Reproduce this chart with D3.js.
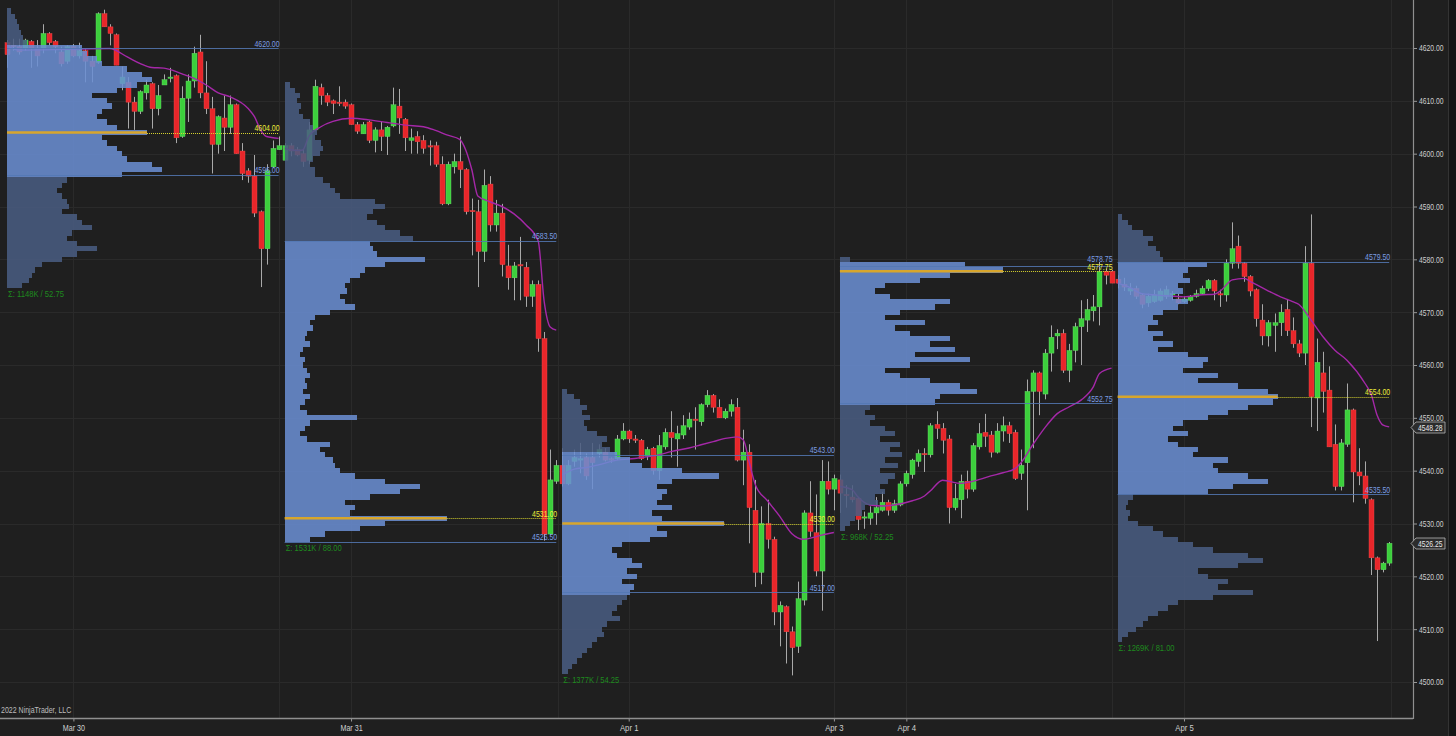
<!DOCTYPE html>
<html><head><meta charset="utf-8">
<script src="https://cdn.jsdelivr.net/npm/d3@7"></script>
<style>html,body{margin:0;padding:0;background:#1f1f1f;overflow:hidden}svg{display:block}</style>
</head><body><svg id="c" width="1456" height="736"></svg>
<script>
// ---------- DATA: 30-minute ES bars [open, high, low, close] ----------
const mar30Bars = [
[4621.0,4621.5,4616.25,4618.75],[4620.5,4621.75,4619.5,4620.25],[4620.25,4621.75,4618.75,4619.25],[4620.0,4621.75,4619.5,4621.5],
[4621.25,4621.5,4616.25,4620.0],[4620.0,4621.5,4616.5,4618.5],[4620.0,4624.5,4619.0,4622.75],[4622.75,4623.0,4620.5,4621.0],
[4621.25,4621.5,4619.0,4620.25],[4619.25,4620.25,4616.5,4617.0],[4617.5,4620.5,4617.0,4620.25],[4620.25,4620.75,4618.25,4618.5],
[4618.5,4621.0,4618.0,4619.5],[4619.5,4619.75,4613.5,4617.5],[4617.5,4618.5,4613.5,4616.5],[4617.25,4626.75,4617.0,4626.5],
[4626.5,4627.25,4624.0,4624.0],[4624.0,4624.5,4620.5,4622.75],[4622.5,4622.75,4616.75,4616.75],[4613.25,4616.5,4612.0,4614.5],
[4613.5,4614.5,4604.75,4609.75],[4609.75,4610.75,4604.5,4608.0],[4608.0,4612.0,4607.5,4611.75],[4611.5,4614.0,4610.25,4613.0],
[4613.25,4613.5,4604.75,4608.5],[4608.5,4613.0,4607.25,4611.0],[4613.0,4615.0,4613.0,4614.0],[4614.25,4616.25,4613.5,4614.5],
[4614.75,4615.0,4602.0,4603.0],[4603.25,4612.75,4603.0,4610.5],[4610.5,4615.0,4606.0,4613.75],[4613.75,4620.25,4612.5,4619.0],
[4619.25,4622.5,4610.5,4611.5],[4611.5,4617.5,4607.5,4608.5],[4608.5,4610.75,4596.25,4601.75],[4601.75,4607.25,4600.0,4607.0],
[4606.75,4611.0,4600.5,4605.0],[4605.0,4611.0,4603.75,4609.25],[4609.25,4609.5,4600.0,4600.0],[4600.5,4602.0,4595.0,4596.25],
[4596.75,4597.25,4594.5,4595.75],[4595.75,4599.75,4588.0,4588.75],[4589.0,4589.25,4574.75,4582.0],[4582.0,4598.0,4579.0,4596.75],
[4597.5,4602.5,4597.25,4601.0],[4600.75,4603.25,4600.75,4601.5]];
const mar31Bars = [
[4598.75,4602.0,4598.75,4601.5],[4601.5,4602.0,4599.5,4600.5],[4600.75,4601.25,4599.5,4599.75],[4600.0,4600.75,4597.5,4598.5],
[4598.75,4606.0,4598.0,4604.5],[4604.5,4614.0,4604.25,4612.75],[4612.5,4613.25,4609.25,4611.0],[4611.0,4611.5,4609.0,4609.75],
[4610.0,4610.25,4607.5,4609.5],[4609.75,4612.75,4609.0,4609.5],[4609.75,4610.25,4608.5,4609.0],[4609.25,4609.5,4605.5,4605.5],
[4605.5,4606.0,4603.75,4604.25],[4603.75,4606.0,4603.75,4605.5],[4606.0,4606.25,4602.0,4602.5],[4602.5,4605.0,4600.25,4604.5],
[4604.5,4606.0,4600.5,4603.25],[4603.25,4605.25,4599.75,4605.0],[4605.25,4612.5,4605.0,4609.25],[4609.0,4612.25,4603.75,4606.75],
[4606.5,4606.75,4600.5,4603.0],[4602.5,4604.75,4600.0,4603.0],[4603.25,4604.25,4600.0,4602.25],[4602.5,4603.5,4600.0,4601.0],
[4601.5,4602.5,4597.75,4601.25],[4601.5,4602.25,4597.5,4598.0],[4598.0,4599.5,4590.25,4590.5],[4590.5,4598.5,4590.25,4598.0],
[4597.5,4600.0,4596.25,4598.5],[4598.5,4603.25,4593.5,4597.0],[4597.0,4597.25,4588.5,4589.0],[4589.25,4591.5,4580.75,4589.0],
[4589.0,4591.25,4574.75,4581.5],[4581.5,4597.0,4579.5,4594.0],[4594.25,4595.75,4585.25,4586.5],[4586.5,4591.25,4585.25,4588.75],
[4588.75,4590.5,4576.75,4579.0],[4578.75,4582.75,4574.25,4576.5],[4576.5,4579.5,4572.25,4578.75],[4579.0,4584.25,4572.25,4578.75],
[4578.5,4579.5,4571.0,4573.0],[4573.0,4576.0,4571.0,4575.25],[4575.25,4576.0,4562.5,4565.0],[4565.0,4566.25,4526.75,4528.0],
[4528.0,4544.0,4527.75,4538.25],[4538.0,4542.0,4537.5,4541.0]];
const apr1Bars = [
[4541.0,4544.25,4537.0,4537.5],[4537.5,4542.0,4537.25,4541.0],[4541.75,4544.0,4540.75,4542.5],[4542.0,4545.25,4539.5,4542.25],
[4542.5,4543.25,4538.25,4539.0],[4542.5,4545.25,4536.5,4541.5],[4543.25,4545.0,4542.5,4544.0],[4543.5,4544.25,4541.75,4542.0],
[4542.25,4542.5,4541.5,4542.0],[4542.25,4546.75,4542.0,4546.0],[4546.0,4549.0,4545.75,4547.5],[4547.5,4547.75,4545.25,4546.0],
[4546.0,4546.75,4545.25,4545.75],[4545.75,4546.0,4542.0,4542.25],[4542.75,4544.5,4542.0,4544.0],[4544.25,4544.5,4539.25,4540.0],
[4540.0,4546.75,4538.25,4544.75],[4544.5,4548.0,4544.0,4547.25],[4547.25,4551.25,4542.5,4546.25],[4546.0,4548.5,4540.75,4547.0],
[4546.75,4550.5,4546.0,4548.5],[4548.25,4551.0,4547.75,4549.75],[4549.75,4552.0,4544.0,4549.5],[4549.25,4552.75,4548.5,4552.5],
[4552.5,4555.25,4552.0,4554.25],[4554.25,4554.5,4551.0,4552.0],[4552.0,4553.5,4550.0,4550.0],[4550.0,4551.75,4549.75,4551.25],
[4551.25,4553.5,4550.25,4552.5],[4552.0,4553.75,4541.75,4542.0],[4542.0,4547.75,4537.25,4543.5],[4543.5,4545.0,4526.25,4533.0],
[4532.5,4538.25,4518.0,4520.75],[4520.75,4533.25,4518.5,4530.0],[4530.0,4534.5,4525.25,4527.0],[4527.0,4527.5,4510.75,4513.25],
[4513.25,4515.25,4506.75,4514.5],[4514.25,4514.5,4503.5,4509.5],[4509.5,4510.5,4501.25,4506.5],[4506.75,4519.0,4505.5,4515.75],
[4515.5,4532.5,4514.5,4532.0],[4532.0,4538.0,4527.5,4528.5],[4528.25,4535.5,4520.0,4521.0],[4521.0,4542.0,4513.5,4538.0],
[4538.0,4541.75,4535.5,4536.5],[4536.5,4539.25,4532.5,4538.5]];
const apr4Bars = [
[4538.25,4539.25,4532.0,4535.75],[4535.5,4537.25,4533.0,4535.25],[4535.0,4537.25,4534.0,4534.5],[4534.75,4535.0,4528.75,4530.75],
[4531.25,4532.25,4529.0,4531.25],[4531.0,4533.25,4529.75,4532.0],[4532.0,4535.0,4529.75,4533.0],[4532.5,4536.0,4532.25,4534.0],
[4534.0,4534.5,4531.5,4532.5],[4532.5,4534.5,4532.0,4533.75],[4533.5,4538.0,4533.25,4537.5],[4537.5,4540.0,4537.0,4539.5],
[4539.25,4542.25,4538.5,4542.0],[4541.75,4544.0,4540.75,4543.25],[4543.25,4544.25,4539.75,4543.0],[4543.0,4549.0,4542.5,4548.5],
[4548.75,4551.25,4546.0,4548.0],[4548.0,4549.0,4543.25,4545.75],[4546.0,4546.75,4530.0,4533.0],[4533.0,4537.5,4532.5,4534.75],
[4534.5,4539.25,4531.0,4538.0],[4538.0,4540.0,4534.75,4536.5],[4536.5,4545.25,4536.0,4544.75],[4544.5,4549.0,4544.0,4547.0],
[4547.25,4550.75,4544.5,4546.5],[4546.75,4547.5,4542.5,4543.5],[4543.5,4549.0,4543.25,4547.5],[4547.5,4550.25,4545.5,4548.5],
[4548.5,4549.25,4545.25,4547.0],[4547.25,4547.75,4538.25,4538.5],[4539.5,4544.0,4538.25,4541.0],[4541.5,4557.25,4532.5,4555.0],
[4555.0,4559.0,4544.25,4558.5],[4558.5,4558.75,4550.5,4555.0],[4554.5,4563.0,4553.5,4562.25],[4562.25,4567.5,4558.75,4565.25],
[4565.5,4566.75,4563.0,4566.0],[4566.0,4566.75,4558.5,4559.0],[4559.0,4564.0,4556.75,4562.75],[4562.75,4568.0,4560.5,4567.25],
[4567.25,4572.25,4560.0,4568.75],[4568.5,4572.5,4566.25,4570.5],[4570.25,4573.25,4568.25,4571.0],[4571.0,4579.5,4567.5,4577.75],
[4577.75,4578.25,4575.25,4577.0],[4577.75,4578.0,4575.5,4575.5]];
const apr5Bars = [
[4576.25,4577.0,4574.5,4575.5],[4575.25,4576.5,4574.0,4574.75],[4574.0,4575.5,4573.25,4574.5],[4574.5,4575.0,4572.5,4573.0],
[4573.25,4573.5,4570.75,4571.5],[4571.75,4573.5,4571.0,4573.0],[4572.0,4574.25,4571.75,4573.25],[4572.25,4574.5,4572.0,4574.0],
[4573.0,4575.0,4572.5,4574.25],[4573.25,4574.0,4572.25,4573.5],[4572.5,4573.5,4571.5,4571.75],[4572.0,4573.0,4571.75,4572.5],
[4572.25,4573.25,4572.0,4573.0],[4573.0,4574.25,4572.75,4573.5],[4573.5,4575.0,4573.25,4574.5],[4574.5,4576.25,4574.0,4576.0],
[4576.0,4576.25,4572.25,4574.0],[4573.5,4574.25,4571.0,4573.25],[4573.25,4580.0,4572.0,4579.25],[4579.25,4587.0,4578.25,4582.0],
[4582.5,4584.5,4578.25,4579.25],[4579.25,4579.5,4575.75,4576.75],[4576.75,4577.0,4573.0,4574.0],[4574.25,4574.5,4567.25,4568.75],
[4568.5,4571.5,4563.75,4565.5],[4565.5,4568.5,4563.5,4568.0],[4567.5,4569.75,4562.5,4568.0],[4568.0,4571.5,4565.5,4570.0],
[4570.5,4572.5,4565.5,4566.5],[4566.5,4569.0,4563.25,4564.0],[4564.0,4564.75,4561.5,4562.25],[4562.25,4582.5,4560.0,4579.25],
[4579.25,4588.5,4548.25,4554.0],[4553.75,4565.0,4547.5,4560.5],[4558.5,4562.5,4551.0,4555.0],[4555.25,4559.75,4544.5,4544.5],
[4545.0,4548.75,4536.25,4537.0],[4537.0,4546.0,4536.25,4545.25],[4545.0,4556.5,4544.5,4551.5],[4551.5,4551.75,4534.0,4539.75],
[4539.75,4544.25,4537.25,4539.0],[4539.0,4541.75,4533.75,4534.75],[4534.5,4534.75,4520.25,4523.5],[4523.5,4523.75,4507.75,4521.25],
[4521.25,4522.75,4520.75,4522.5],[4522.5,4526.5,4522.0,4526.25]];

// session VWAP readings [bar index, price]
const mar30Vwap = [[0,4620.5],[2,4619.6],[10,4619.75],[17,4619.9],[20,4618.25],[22,4617.1],[24,4616.3],[26,4616.2],[29,4615.1],[31,4614.25],[33,4613.0],[35,4611.5],[37,4610.75],[40,4608.5],[41,4607.0],[42,4604.5],[43,4603.25],[45,4602.9]];
const mar31Vwap = [[46,4601.0],[48,4600.6],[49,4600.7],[50,4603.25],[52,4605.1],[54,4606.1],[57,4606.7],[60,4606.4],[63,4605.9],[66,4605.4],[69,4605.1],[71,4604.4],[73,4603.5],[75,4602.7],[76,4600.7],[77,4597.0],[78,4592.0],[80,4590.9],[82,4590.0],[84,4588.6],[86,4586.5],[88,4583.5],[89,4572.0],[90,4567.2],[91,4566.6]];
const apr1Vwap = [[92,4539.2],[94,4540.3],[96,4540.6],[98,4541.1],[101,4542.0],[104,4542.3],[106,4542.6],[108,4543.0],[110,4543.6],[113,4544.3],[115,4544.9],[117,4545.5],[119,4546.1],[121,4546.4],[122,4545.8],[123,4541.5],[124,4537.3],[126,4534.3],[128,4531.4],[130,4528.1],[132,4527.0],[134,4527.5],[135,4527.8],[137,4528.3]];
const apr4Vwap = [[138,4537.0],[140,4536.4],[141,4535.0],[143,4533.5],[145,4533.3],[147,4533.5],[150,4534.3],[152,4535.2],[153,4536.2],[155,4538.2],[156,4538.0],[158,4537.6],[161,4538.3],[163,4539.0],[165,4539.6],[167,4540.4],[168,4541.5],[170,4545.0],[172,4548.2],[174,4550.8],[176,4552.1],[178,4553.4],[180,4555.9],[181,4558.4],[183,4559.4]];
const apr5Vwap = [[184,4575.5],[186,4574.7],[188,4573.5],[190,4573.3],[192,4573.1],[195,4572.9],[198,4573.3],[200,4573.4],[201,4574.0],[203,4576.1],[205,4576.4],[206,4575.8],[209,4574.0],[211,4572.9],[213,4572.0],[214,4571.5],[216,4568.6],[218,4565.4],[220,4562.8],[222,4560.9],[225,4556.5],[226,4554.5],[227,4550.5],[228,4548.6],[229,4548.28]];

// volume profiles: volume (K contracts) per 1-point level, from the top price downward
const mar30Volume = [0.8,1.6,2,2.4,2.8,3.2,4,15,16,18,19,24,27,29,26,22,17,20,21,19,18,20,22,28,19,20,22,23,24,29,31,23,12,11,10,11,12,12.4,11,14,15,17,13,12,14,18,14,11,7,5.6,5,4.4,3];
const mar31Volume = [1,2,3,2.4,3.2,2.8,3.6,5,5.6,6.4,6,7.2,7.6,7,5.6,5,6,6,7.6,9,10,11,18,20,17.6,16.4,18.4,20,23,25.6,17,17.6,18.4,28,20,16,15,13,12,12.4,11,12,14,9,6,5,5.6,4.4,4,5,3.6,3,4,3.6,4.4,5,4,4.4,3.6,5,4,3,4.4,14.4,5,4,3,4.4,9,7,8,9.6,10,11,14,20,27,23,17,12,14,13,32.4,20,15,8,5];
const apr1Volume = [1,2.4,3.6,5,4,5.6,4.4,5,7,9,8,9.6,11,13.6,16,24,31.4,22,19,21,20,19,22,18,20,32.4,19,21,17.6,12,10,11,14,16,13,15,12,14.4,13.6,13,12,11,10,11.6,9,8,8.4,7,6,5,4,3,2,1.2];
const apr4Volume = [2,25,32.6,22,16,9,7,10,22,19,12,9,17,11,14,22,18,23,15,26,14,9,12,18,24,27.4,20,19,6,5,7,6,9,11,8,12,10,12.4,9,11.6,8,11,9.6,8,9,7,7.6,5,4.4,3,2,1];
const apr5Volume = [0.8,2,2.8,5,7,6,7.6,8.4,9,17.8,14,13,14.4,12,13,11,14,12,9,7,8,6,9,7,11,8,14,18,17,13,20,16,24,30,32,31,26,22,18,13,11,14,10,12,16,15,22,19,20,26,30,23,18,3,2,1.6,2.4,2,4,7,9,12,15,19,26,29,24,16,18,22,20,27,19,12,10,8,6,5,3.6,2,0.8];
const profileTops = [4627,4613,4555,4580,4588];
const valueAreaHighs = [4620,4583.5,4543,4578.75,4579.5];
const pocPrices = [4604,4531,4530,4577.75,4554];
const valueAreaLows = [4596,4526.5,4517,4552.75,4535.5];
const sessionSummaries = ["Σ: 1148K / 52.75","Σ: 1531K / 88.00","Σ: 1377K / 54.25","Σ: 968K / 52.25","Σ: 1269K / 81.00"];

// axes
const priceTicks = [4500,4510,4520,4530,4540,4550,4560,4570,4580,4590,4600,4610,4620];
const dayTickBars = [11,57,103,137,149,195];
const dayTickLabels = ["Mar 30","Mar 31","Apr 1","Apr 3","Apr 4","Apr 5"];
const gridBars = [11,45,57,91.3,103,137,149,183.1,195,229.3];
const lastPrice = 4526.25, lastVwap = 4548.28;

// ---------- DRAW ----------
const svg = d3.select('#c');
const FONT = "'Liberation Sans',Arial,sans-serif";
const fmt = d3.format('.2f');
// condensed look of the platform's font
function narrow(sel, perChar) {
  sel.each(function() {
    const t = d3.select(this);
    const s = t.text();
    t.attr('textLength', s.length * perChar).attr('lengthAdjust', 'spacingAndGlyphs');
  });
  return sel;
}
const sessions = [mar30Bars,mar31Bars,apr1Bars,apr4Bars,apr5Bars];
const vwaps = [mar30Vwap,mar31Vwap,apr1Vwap,apr4Vwap,apr5Vwap];
const volumes = [mar30Volume,mar31Volume,apr1Volume,apr4Volume,apr5Volume];
const bars = [];
const startIdx = [];
sessions.forEach(s => { startIdx.push(bars.length); s.forEach(b => bars.push(b)); });

const x = d3.scaleLinear().domain([0, bars.length-1]).range([7, 1389.2]);
const y = d3.scaleLinear().domain([4500, 4620]).range([682, 48]);
const vol = d3.scaleLinear().domain([0, 32.4]).range([0, 162]);

svg.append('rect').attr('width',1456).attr('height',736).attr('fill','#1f1f1f');

// grid
const grid = svg.append('g').attr('shape-rendering','crispEdges');
grid.selectAll('line.h').data(priceTicks).join('line')
  .attr('x1',0).attr('x2',1413).attr('y1',d=>Math.round(y(d))+0.5).attr('y2',d=>Math.round(y(d))+0.5)
  .attr('stroke','#2a2a2a').attr('stroke-width',1);
grid.selectAll('line.v').data(gridBars).join('line')
  .attr('y1',0).attr('y2',718).attr('x1',d=>Math.round(x(d))+0.5).attr('x2',d=>Math.round(x(d))+0.5)
  .attr('stroke','#2a2a2a').attr('stroke-width',1);

// candles
const cg = svg.append('g');
cg.selectAll('line').data(bars).join('line')
  .attr('x1',(d,i)=>Math.round(x(i))+0.5).attr('x2',(d,i)=>Math.round(x(i))+0.5)
  .attr('y1',d=>y(d[1])).attr('y2',d=>y(d[2]))
  .attr('stroke','#a9a9a9').attr('stroke-width',1);
cg.selectAll('rect').data(bars).join('rect')
  .attr('x',(d,i)=>Math.round(x(i))-2).attr('width',5)
  .attr('y',d=>y(Math.max(d[0],d[3])))
  .attr('height',d=>Math.max(1.2, Math.abs(y(d[0])-y(d[3]))))
  .attr('fill',d=>d[3]>=d[0]?'#3ccf3c':'#e8262a')
  .attr('stroke',d=>d[3]>=d[0]?'#6fe06f':'#f05050').attr('stroke-width',0.4);

// vwap
const vline = d3.line().x(d=>x(d[0])).y(d=>y(d[1])).curve(d3.curveMonotoneX);
svg.append('g').selectAll('path').data(vwaps).join('path')
  .attr('d',vline).attr('fill','none').attr('stroke','#a528a8').attr('stroke-width',1.4);

// profiles
volumes.forEach((v, s) => {
  const x0 = x(startIdx[s]);
  const xEnd = x(startIdx[s] + sessions[s].length - 1);
  const top = profileTops[s], vah = valueAreaHighs[s], val = valueAreaLows[s], poc = pocPrices[s];
  const rows = v.map((vv, k) => ({p: top - k, v: vv}));
  const g = svg.append('g');
  const pg = g.append('g').attr('opacity', 0.86).attr('shape-rendering','crispEdges');
  pg.selectAll('rect').data(rows).join('rect')
    .attr('x', Math.round(x0)).attr('y', d => Math.round(y(d.p + 0.5)))
    .attr('height', d => Math.round(y(d.p - 0.5)) - Math.round(y(d.p + 0.5)))
    .attr('width', d => Math.round(vol(d.v)))
    .attr('fill', d => (d.p - 0.5 < vah && d.p + 0.5 > val) ? '#6b8fd4' : '#4a5d82');
  const pocRow = rows.find(r => r.p === Math.round(poc));
  const pw = vol(pocRow.v);
  // VAH / VAL lines and labels
  [vah, val].forEach((lv, k) => {
    g.append('line').attr('x1', x0).attr('x2', xEnd).attr('y1', Math.round(y(lv))+0.5).attr('y2', Math.round(y(lv))+0.5)
      .attr('stroke', '#5478b4').attr('stroke-width', 1).attr('stroke-opacity', 0.85);
    let ly = y(lv) - 1.5;
    if (k === 0 && Math.abs(y(poc) - y(vah)) < 9) ly = y(poc) - 9.5;
    narrow(g.append('text').attr('x', xEnd + 1).attr('y', ly).attr('text-anchor', 'end')
      .attr('font-family', FONT).attr('font-size', 9).attr('fill', '#7b9de2').text(fmt(lv)), 3.6);
  });
  // POC line and label
  g.append('line').attr('x1', x0).attr('x2', x0 + pw).attr('y1', y(poc)).attr('y2', y(poc))
    .attr('stroke', '#d8a62c').attr('stroke-width', 2.5);
  g.append('line').attr('x1', x0 + pw).attr('x2', xEnd).attr('y1', Math.round(y(poc))+0.5).attr('y2', Math.round(y(poc))+0.5)
    .attr('stroke', '#d6d22e').attr('stroke-width', 1).attr('stroke-dasharray', '1,1');
  narrow(g.append('text').attr('x', xEnd + 1).attr('y', y(poc) - 1.5).attr('text-anchor', 'end')
    .attr('font-family', FONT).attr('font-size', 9).attr('fill', '#ecec3a').text(fmt(poc)), 3.6);
  // summary
  const bottom = top - v.length + 1;
  narrow(g.append('text').attr('x', x0 + 1).attr('y', y(bottom - 0.5) + 9)
    .attr('font-family', FONT).attr('font-size', 9).attr('fill', '#1e8a1e').text(sessionSummaries[s]), 3.5);
});

// bottom axis
const xAxis = d3.axisBottom(x).tickValues(dayTickBars).tickFormat((d,i)=>dayTickLabels[i]).tickSize(3).tickPadding(3);
const gx = svg.append('g').attr('transform','translate(0,718.5)').call(xAxis);
gx.select('.domain').remove();
gx.selectAll('line').attr('stroke','#999');
narrow(gx.selectAll('text').attr('fill','#cfcfcf').attr('font-family',FONT).attr('font-size',9), 3.7);
svg.append('line').attr('x1',0).attr('x2',1413).attr('y1',718.5).attr('y2',718.5).attr('stroke','#8f8f8f').attr('stroke-width',1.5);

// right axis
const yAxis = d3.axisRight(y).tickValues(priceTicks).tickFormat(fmt).tickSize(4).tickPadding(2);
const gy = svg.append('g').attr('transform','translate(1413,0)').call(yAxis);
gy.select('.domain').remove();
gy.selectAll('line').attr('stroke','#999');
narrow(gy.selectAll('text').attr('fill','#cfcfcf').attr('font-family',FONT).attr('font-size',9), 3.5);
svg.append('line').attr('x1',1413.5).attr('x2',1413.5).attr('y1',0).attr('y2',719).attr('stroke','#8f8f8f').attr('stroke-width',1.2);

// price markers
[lastVwap, lastPrice].forEach(p => {
  const yc = Math.round(y(p)) + 0.5;
  svg.append('path').attr('d', `M1411,${yc} L1416,${yc-5.5} L1445,${yc-5.5} L1445,${yc+5.5} L1416,${yc+5.5} Z`)
    .attr('fill','#2c2c2c').attr('stroke','#b5b5b5').attr('stroke-width',0.8);
  narrow(svg.append('text').attr('x',1418).attr('y',yc+3.2).attr('font-family',FONT).attr('font-size',9)
    .attr('fill','#e8e8e8').text(fmt(p)), 3.5);
});

// right strip
svg.append('rect').attr('x',1448).attr('y',0).attr('width',8).attr('height',736).attr('fill','#161616');
svg.append('line').attr('x1',1448.5).attr('x2',1448.5).attr('y1',0).attr('y2',736).attr('stroke','#333');

// copyright
narrow(svg.append('text').attr('x',1).attr('y',713).attr('font-family',FONT).attr('font-size',9).attr('fill','#bdbdbd').text('2022 NinjaTrader, LLC'), 3.35);
</script>
</body></html>
